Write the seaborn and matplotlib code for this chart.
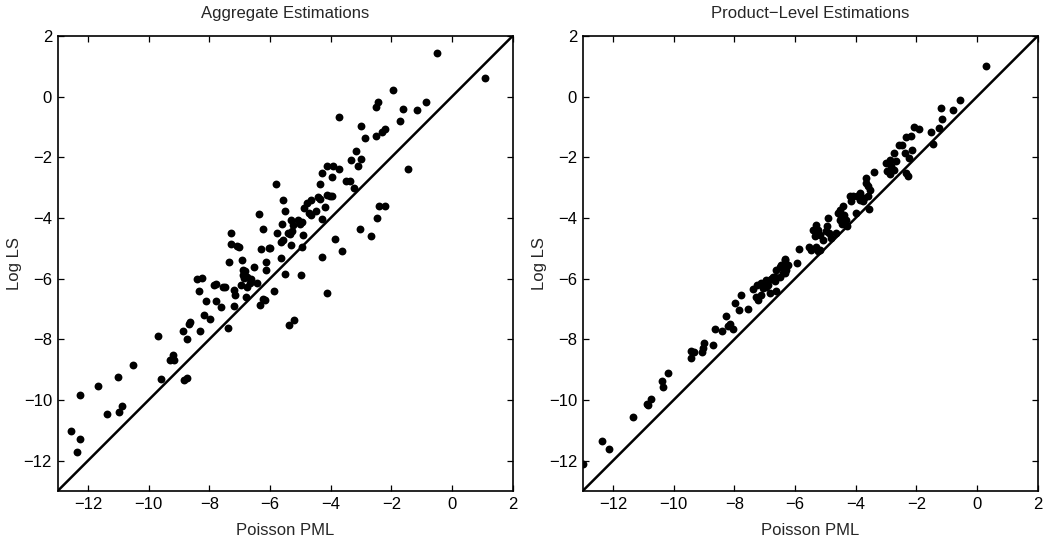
import numpy as np
import pandas as pd
import matplotlib
matplotlib.use("Agg")
import matplotlib.pyplot as plt
import seaborn as sns

# Aggregate estimations: Poisson PML coefficient vs. log-linear LS coefficient
agg_pml = [
    -0.50, 1.08, -1.93, -2.44, -2.52, -0.86, -1.61, -1.16, -3.72, -1.72,
    -3.01, -2.88, -2.52, -2.30, -2.21, -3.15, -3.33, -3.01, -3.09, -4.12,
    -3.92, -3.74, -1.46, -4.27, -3.95, -4.35, -3.49, -3.37, -3.23, -4.40,
    -4.35, -4.12, -4.02, -3.96, -4.78, -4.65, -4.88, -4.18, -4.48, -4.72,
    -4.66, -4.29, -4.94, -2.42, -2.21, -2.48, -3.04, -2.67, -3.84, -4.91,
    -5.81, -5.56, -5.49, -5.06, -5.02, -5.31, -5.24, -5.59, -5.77, -5.40,
    -5.35, -5.28, -5.57, -5.65, -5.29, -6.01, -4.95, -5.63, -5.52, -4.99,
    -3.64, -4.29, -6.36, -7.29, -6.24, -7.28, -7.09, -7.02, -6.31, -6.03,
    -7.36, -6.92, -6.52, -6.13, -6.14, -6.89, -6.83, -6.89, -6.75, -6.61,
    -6.86, -6.44, -6.95, -6.77, -6.66, -7.20, -7.15, -8.39, -8.25, -8.34,
    -7.84, -7.78, -7.56, -7.48, -8.10, -7.78, -7.62, -7.18, -6.78, -6.34,
    -6.23, -6.17, -5.87, -4.13, -5.38, -5.21, -8.18, -7.98, -8.62, -8.67,
    -8.86, -8.31, -7.38, -9.69, -8.74, -9.20, -9.28, -9.16, -10.51, -9.59,
    -8.82, -8.72, -11.02, -11.66, -12.26, -11.38, -10.98, -10.88, -12.57, -12.26,
    -12.35,
]
agg_ls = [
    1.44, 0.62, 0.23, -0.16, -0.35, -0.17, -0.40, -0.43, -0.66, -0.79,
    -0.96, -1.36, -1.30, -1.18, -1.08, -1.79, -2.09, -2.04, -2.27, -2.28,
    -2.28, -2.37, -2.37, -2.52, -2.64, -2.89, -2.77, -2.78, -3.00, -3.31,
    -3.38, -3.25, -3.28, -3.27, -3.49, -3.42, -3.68, -3.65, -3.78, -3.83,
    -3.89, -4.02, -4.13, -3.62, -3.59, -4.01, -4.37, -4.59, -4.68, -4.57,
    -2.88, -3.40, -3.76, -4.08, -4.19, -4.05, -4.24, -4.21, -4.50, -4.50,
    -4.53, -4.43, -4.73, -4.80, -4.89, -4.99, -4.97, -5.32, -5.84, -5.88,
    -5.10, -5.28, -3.88, -4.48, -4.35, -4.86, -4.93, -4.96, -5.01, -5.00,
    -5.45, -5.38, -5.60, -5.46, -5.71, -5.70, -5.76, -5.87, -5.95, -6.00,
    -5.99, -6.14, -6.20, -6.26, -6.14, -6.36, -6.53, -6.02, -5.99, -6.40,
    -6.20, -6.16, -6.27, -6.27, -6.73, -6.73, -6.92, -6.89, -6.59, -6.86,
    -6.66, -6.69, -6.41, -6.47, -7.53, -7.35, -7.19, -7.32, -7.44, -7.48,
    -7.71, -7.74, -7.62, -7.89, -7.98, -8.51, -8.67, -8.67, -8.85, -9.31,
    -9.33, -9.27, -9.23, -9.54, -9.82, -10.45, -10.41, -10.19, -11.02, -11.27,
    -11.73,
]

# Product-level estimations
prod_pml = [
    0.30, -0.57, -0.78, -1.20, -1.15, -1.24, -1.53, -1.44, -2.08, -1.91,
    -2.34, -2.18, -2.56, -2.47, -2.15, -2.36, -2.23, -2.75, -2.66, -2.88,
    -2.99, -2.83, -2.97, -2.88, -2.72, -2.34, -2.29, -3.41, -3.65, -3.67,
    -3.60, -3.54, -3.59, -3.87, -3.96, -3.87, -3.76, -3.71, -3.57, -4.20,
    -4.09, -4.15, -3.98, -4.42, -4.51, -4.59, -4.47, -4.37, -4.31, -4.53,
    -4.29, -4.44, -4.92, -4.95, -4.99, -4.88, -5.30, -5.24, -5.39, -5.35,
    -5.19, -5.08, -4.80, -4.64, -5.54, -5.46, -5.30, -5.19, -5.24, -5.87,
    -5.94, -6.34, -6.40, -6.51, -6.61, -6.34, -6.67, -7.38, -7.27, -7.22,
    -7.25, -7.11, -7.06, -7.11, -6.94, -6.89, -6.94, -6.83, -6.73, -6.67,
    -6.61, -6.78, -6.51, -6.40, -6.31, -6.45, -6.23, -6.33, -7.78, -7.98,
    -7.85, -7.55, -8.26, -8.21, -8.15, -8.04, -8.65, -8.41, -8.71, -9.08,
    -9.03, -9.00, -9.44, -9.33, -9.44, -10.38, -10.36, -10.20, -10.89, -10.86,
    -10.76, -11.33, -12.35, -12.13, -13.00,
]
prod_ls = [
    1.00, -0.11, -0.43, -0.36, -0.74, -1.03, -1.16, -1.56, -0.99, -1.08,
    -1.33, -1.30, -1.61, -1.59, -1.77, -1.85, -2.02, -1.86, -2.13, -2.08,
    -2.19, -2.30, -2.46, -2.54, -2.41, -2.52, -2.63, -2.48, -2.69, -2.85,
    -2.96, -3.07, -3.29, -3.16, -3.29, -3.40, -3.45, -3.34, -3.69, -3.29,
    -3.29, -3.45, -3.82, -3.62, -3.75, -3.84, -3.95, -3.89, -4.06, -4.06,
    -4.28, -4.19, -4.01, -4.28, -4.44, -4.50, -4.22, -4.39, -4.39, -4.61,
    -4.55, -4.72, -4.66, -4.50, -4.94, -5.05, -4.94, -5.05, -5.10, -5.02,
    -5.48, -5.38, -5.54, -5.60, -5.71, -5.81, -5.93, -6.33, -6.60, -6.69,
    -6.20, -6.14, -6.31, -6.53, -6.03, -6.20, -6.27, -6.47, -5.93, -6.09,
    -6.42, -6.01, -5.93, -5.81, -5.71, -5.54, -5.54, -5.35, -6.54, -6.80,
    -7.02, -6.99, -7.22, -7.55, -7.49, -7.65, -7.67, -7.72, -8.20, -8.42,
    -8.30, -8.12, -8.38, -8.42, -8.62, -9.36, -9.57, -9.11, -10.12, -10.18,
    -9.97, -10.56, -11.35, -11.60, -12.12,
]

panel_titles = ["Aggregate Estimations", "Product\u2212Level Estimations"]
x_label = "Poisson PML"
y_label = "Log LS"
axis_ticks = [-12, -10, -8, -6, -4, -2, 0, 2]
axis_limits = (-13, 2)

sns.set_theme(style="white")
plt.rcParams["font.family"] = ["Liberation Sans", "DejaVu Sans"]
plt.rcParams["axes.unicode_minus"] = True

fig = plt.figure(figsize=(10.44, 5.42), dpi=100)
ax_left = fig.add_axes([0.0552, 0.0941, 0.4358, 0.8395])
ax_right = fig.add_axes([0.5581, 0.0941, 0.4358, 0.8395])

frames = [
    pd.DataFrame({"pml": agg_pml, "ls": agg_ls}),
    pd.DataFrame({"pml": prod_pml, "ls": prod_ls}),
]

for ax, df, title in zip([ax_left, ax_right], frames, panel_titles):
    sns.scatterplot(data=df, x="pml", y="ls", ax=ax, color="black",
                    s=32, edgecolor="black", linewidth=0, zorder=3)
    # 45-degree reference line
    ax.axline((0, 0), slope=1, color="black", linewidth=1.8, zorder=2)
    ax.set_xlim(*axis_limits)
    ax.set_ylim(*axis_limits)
    ax.set_xticks(axis_ticks)
    ax.set_yticks(axis_ticks)
    ax.tick_params(direction="in", length=4, width=0.9, top=True, right=True,
                   bottom=True, left=True, labelsize=12, colors="black", pad=4)
    for spine in ax.spines.values():
        spine.set_visible(True)
        spine.set_color("black")
        spine.set_linewidth(1.2)
    ax.set_xlabel(x_label, fontsize=12, labelpad=8)
    ax.set_ylabel(y_label, fontsize=12, labelpad=1)
    ax.set_title(title, fontsize=12, pad=13)
    ax.grid(False)

fig.savefig("out.png", dpi=100, facecolor="white")
